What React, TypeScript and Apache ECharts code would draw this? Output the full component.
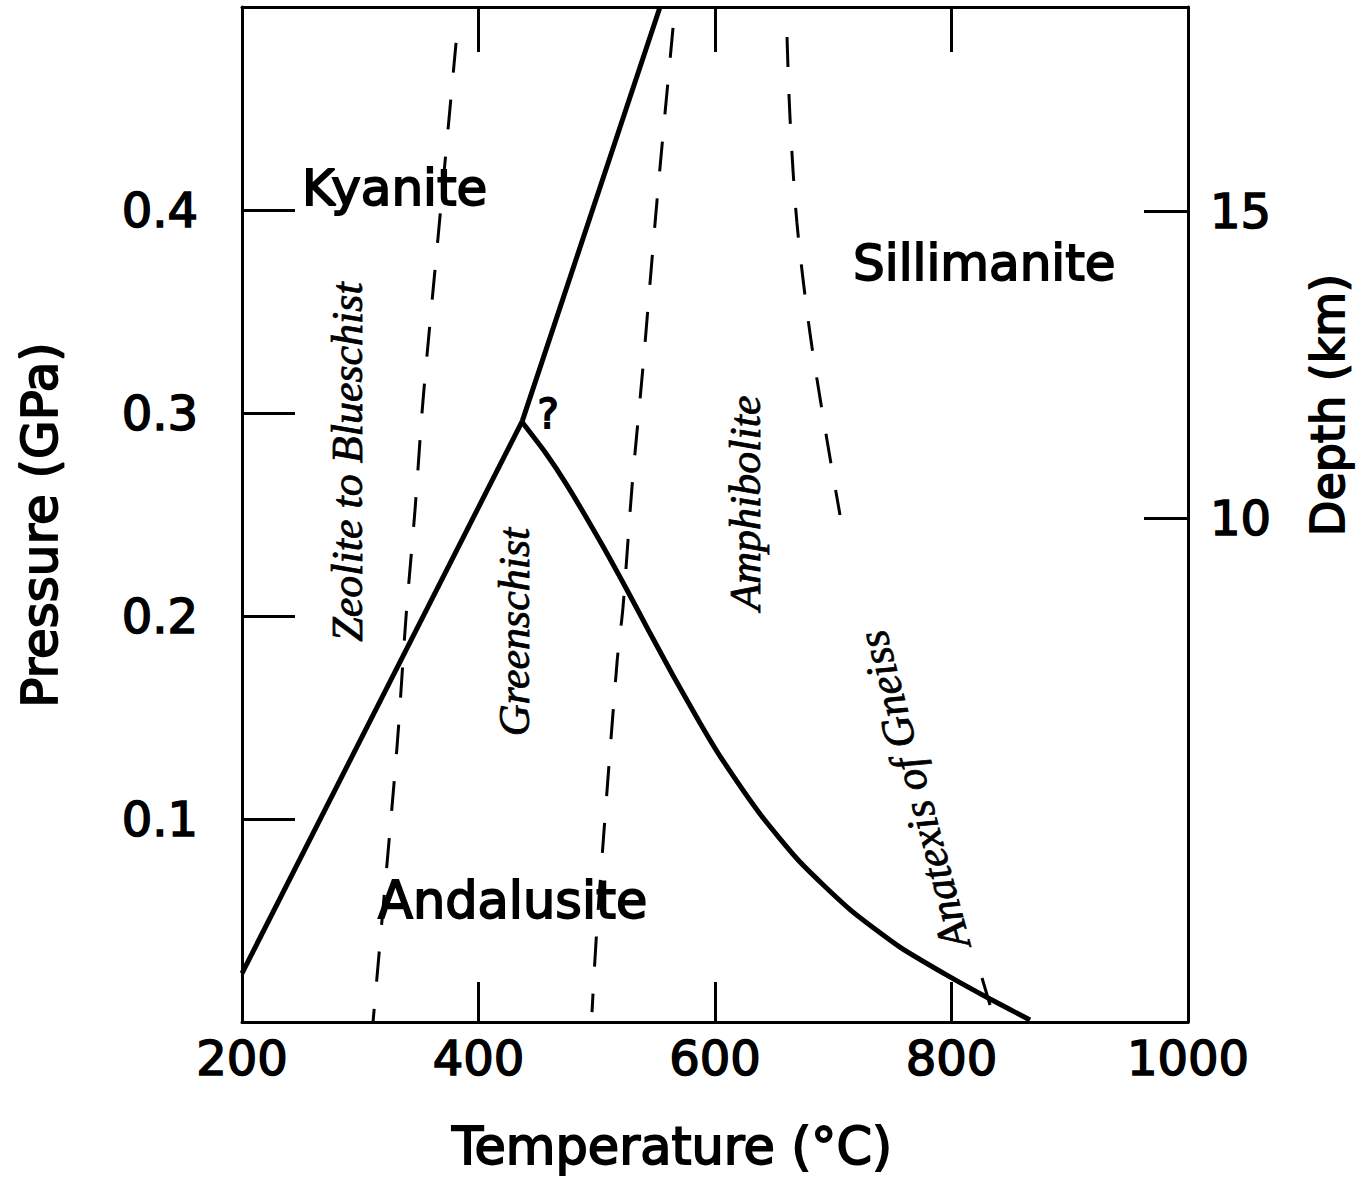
import React, { useEffect, useRef } from 'react';
import * as echarts from 'echarts';

// Axis ticks
const temperatureTicks = [200, 400, 600, 800, 1000];
const pressureTickLabels = ['0.1', '0.2', '0.3', '0.4'];
const depthTicks = [10, 15];

// Phase boundaries [temperature °C, pressure GPa]
const kyaniteAndalusite = [[200, 0.024], [437, 0.296]];
const kyaniteSillimanite = [[437, 0.296], [553.5, 0.5]];
const andalusiteSillimanite = [
  [436.8, 0.2956], [456.2, 0.2808], [474.8, 0.2645], [502.7, 0.2369], [525.6, 0.2128],
  [545.0, 0.1916], [564.5, 0.1707], [587.3, 0.1473], [604.2, 0.131], [638.1, 0.1025],
  [671.9, 0.0788], [714.2, 0.0554], [756.4, 0.0369], [798.7, 0.0222], [832.6, 0.0113],
  [866.4, 0.001],
];

// Metamorphic facies limits (dashed)
const zeoliteGreenschist = [
  [381.0, 0.4823], [366.6, 0.3916], [353.1, 0.3064], [346.3, 0.2522], [338.7, 0.1995],
  [331.1, 0.1355], [316.7, 0.0389], [310.8, 0.0],
];
const greenschistAmphibolite = [
  [564.5, 0.4897], [551.0, 0.4049], [539.1, 0.3227], [529.8, 0.2635], [522.2, 0.2044],
  [517.1, 0.1768], [500.2, 0.0468], [496.0, 0.0049],
];
const amphiboliteUpper = [
  [660.9, 0.4852], [663.4, 0.4458], [669.3, 0.3936], [680.3, 0.3394], [694.7, 0.2867],
  [705.7, 0.2498],
];
const anatexisTail = [[825.8, 0.0217], [832.6, 0.0084]];

const SANS = '"DejaVu Sans", "Liberation Sans", Arial, sans-serif';
const SCRIPT = '"Liberation Serif", "DejaVu Serif", serif';

export default function App() {
  const ref = useRef<HTMLDivElement>(null);

  useEffect(() => {
    if (!ref.current) return;
    const chart = echarts.init(ref.current, null, { renderer: 'svg' });

    const axisLine = { show: true, lineStyle: { color: '#000', width: 3 } };
    const tickStyle = { color: '#000', width: 3 };
    const labelStyle = {
      color: '#000',
      fontFamily: SANS,
      fontSize: 48,
      textBorderColor: '#000',
      textBorderWidth: 1.6,
    };

    const solid = (data: number[][], width: number, smooth: number | boolean = false) => ({
      type: 'line',
      data,
      xAxisIndex: 0,
      yAxisIndex: 0,
      symbol: 'none',
      smooth,
      clip: false,
      lineStyle: { color: '#000', width },
      z: 3,
    });
    const dashed = (data: number[][]) => ({
      type: 'line',
      data,
      xAxisIndex: 0,
      yAxisIndex: 0,
      symbol: 'none',
      smooth: 0.3,
      clip: false,
      lineStyle: { color: '#000', width: 3, type: [30, 27] },
      z: 2,
    });

    const txt = (
      text: string,
      x: number,
      y: number,
      opts: { size?: number; script?: boolean; rot?: number; align?: string } = {}
    ) => ({
      type: 'text',
      x,
      y,
      rotation: ((opts.rot || 0) * Math.PI) / 180,
      z: 10,
      style: {
        text,
        fill: '#000',
        fontFamily: opts.script ? SCRIPT : SANS,
        fontStyle: opts.script ? 'italic' : 'normal',
        fontWeight: 'normal',
        fontSize: opts.size || 50,
        align: opts.align || 'center',
        verticalAlign: 'middle',
        stroke: '#000',
        lineWidth: opts.script ? 0.8 : 1.8,
      },
    });

    chart.setOption({
      animation: false,
      backgroundColor: '#fff',
      grid: { left: 242, right: 174, top: 7, bottom: 156, containLabel: false },
      xAxis: [
        {
          type: 'value',
          position: 'bottom',
          min: temperatureTicks[0],
          max: temperatureTicks[temperatureTicks.length - 1],
          interval: 200,
          axisLine,
          axisTick: { show: true, inside: true, length: 40, lineStyle: tickStyle },
          axisLabel: { ...labelStyle, margin: 12, formatter: (v: number) => String(v) },
          splitLine: { show: false },
        },
        {
          type: 'value',
          position: 'top',
          min: temperatureTicks[0],
          max: temperatureTicks[temperatureTicks.length - 1],
          interval: 200,
          axisLine,
          axisTick: { show: true, inside: true, length: 45, lineStyle: tickStyle },
          axisLabel: { show: false },
          splitLine: { show: false },
        },
      ],
      yAxis: [
        {
          type: 'value',
          position: 'left',
          min: 0,
          max: 0.5,
          interval: 0.1,
          axisLine,
          axisTick: { show: true, inside: true, length: 53, lineStyle: tickStyle },
          axisLabel: {
            ...labelStyle,
            margin: 44,
            formatter: (v: number) => {
              const s = v.toFixed(1);
              return pressureTickLabels.includes(s) ? s : '';
            },
          },
          splitLine: { show: false },
        },
        {
          type: 'value',
          position: 'right',
          min: 1.79,
          max: 18.32,
          axisLine,
          axisTick: { show: true, inside: true, length: 44, lineStyle: tickStyle, customValues: depthTicks },
          axisLabel: { ...labelStyle, margin: 22, customValues: depthTicks, formatter: (v: number) => String(Math.round(v)) },
          splitLine: { show: false },
        },
      ],
      series: [
        solid(kyaniteAndalusite, 5),
        solid(kyaniteSillimanite, 5),
        solid(andalusiteSillimanite, 5, 0.2),
        dashed(zeoliteGreenschist),
        dashed(greenschistAmphibolite),
        dashed(amphiboliteUpper),
        { ...solid(anatexisTail, 3), z: 2 },
      ],
      graphic: [
        txt('Kyanite', 302, 188, { align: 'left' }),
        txt('Sillimanite', 853, 263, { align: 'left' }),
        txt('Andalusite', 378, 900, { align: 'left', size: 51 }),
        txt('?', 548, 414, { size: 40 }),
        txt('Zeolite to Blueschist', 347, 462, { script: true, size: 44, rot: 90 }),
        txt('Greenschist', 514, 632, { script: true, size: 44, rot: 90 }),
        txt('Amphibolite', 745, 503, { script: true, size: 44, rot: 90 }),
        txt('Anatexis of Gneiss', 914, 790, { script: true, size: 44, rot: 105 }),
        txt('Pressure (GPa)', 40, 525, { rot: 90, size: 50 }),
        txt('Temperature (°C)', 672, 1146, { size: 51 }),
        txt('Depth (km)', 1328, 405, { rot: 90, size: 46 }),
      ],
    });

    return () => chart.dispose();
  }, []);

  return (
    <div
      ref={ref}
      style={{ position: 'fixed', left: 0, top: 0, width: 1362, height: 1178, background: '#fff' }}
    />
  );
}
